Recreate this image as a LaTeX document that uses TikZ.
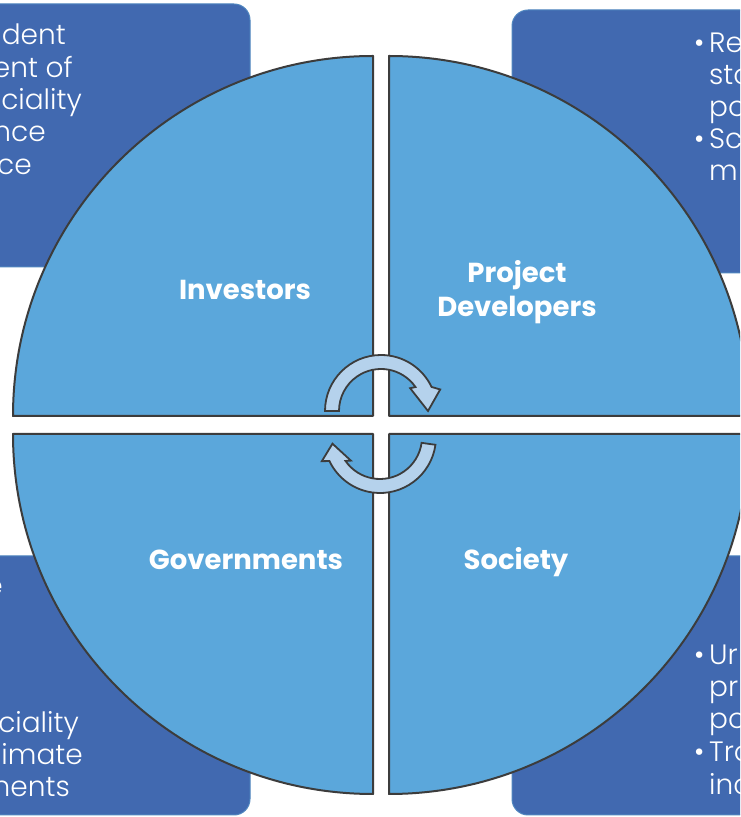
\documentclass[tikz,border=0pt]{standalone}
\usepackage{fontspec}
\setmainfont{Poppins}
\IfFontExistsTF{Poppins Light}{\newfontfamily\lightfont{Poppins Light}}{\newfontfamily\lightfont{Poppins}}

\definecolor{boxblue}{HTML}{4169B0}
\definecolor{boxedge}{HTML}{4F86BF}
\definecolor{quadblue}{HTML}{5BA7DB}
\definecolor{rimgray}{HTML}{3C3C3C}
\definecolor{arrowfill}{HTML}{B5D2EC}

\begin{document}
\begin{tikzpicture}[x=1pt, y=1pt,
    card/.style={fill=boxblue, draw=boxedge, line width=1pt, rounded corners=16pt},
    quad/.style={fill=quadblue, draw=rimgray, line width=2pt, line join=round},
    who/.style={text=white, font=\fontsize{27.5}{33}\selectfont\bfseries, inner sep=0pt},
    cardtext/.style={text=white, font=\lightfont\fontsize{28}{32}\selectfont, inner sep=0pt},
    turn/.style={fill=arrowfill, draw=rimgray, line width=1.8pt}]

  \clip (0,0) rectangle (740,817);
  \fill[white] (0,0) rectangle (740,817);

  %% cards behind the wheel
  \draw[card] (-30,550) rectangle (250,813);
  \draw[card] (512,544) rectangle (770,807);
  \draw[card] (-30,2) rectangle (250,261);
  \draw[card] (512,2) rectangle (770,261);

  %% card texts
  \foreach \t/\x/\y [count=\i] in {dent/66/772, ent of/73/739, ciality/82/707, nce/46/675, ce/32/642}
    \node[cardtext, anchor=base east] (tl\i) at (\x,\y) {\t};

  \foreach \t/\y [count=\i] in {Re/764, sto/732, po/700, Sc/668, m/636}
    \node[cardtext, anchor=base west] (tr\i) at (709,\y) {\t};
  \node[cardtext, anchor=base west] (trdot1) at (694,764) {\textbullet};
  \node[cardtext, anchor=base west] (trdot2) at (694,668) {\textbullet};

  \node[cardtext, anchor=base east] (bl0) at (3,221) {e};
  \foreach \t/\x/\y [count=\i] in {ciality/79/84, imate/83/52, nents/70/20}
    \node[cardtext, anchor=base east] (bl\i) at (\x,\y) {\t};

  \foreach \t/\y [count=\i] in {Ur/152, pr/120, po/88, Tro/55, inc/23}
    \node[cardtext, anchor=base west] (br\i) at (709,\y) {\t};
  \node[cardtext, anchor=base west] (brdot1) at (694,152) {\textbullet};
  \node[cardtext, anchor=base west] (brdot2) at (694,55) {\textbullet};

  %% the four quarters
  \draw[quad] (373,401) -- (13,401) arc[start angle=180, end angle=90, radius=360pt] -- cycle;
  \draw[quad] (389,401) -- (389,761) arc[start angle=90, end angle=0, radius=360pt] -- cycle;
  \draw[quad] (373,383) -- (373,23) arc[start angle=270, end angle=180, radius=360pt] -- cycle;
  \draw[quad] (389,383) -- (749,383) arc[start angle=0, end angle=-90, radius=360pt] -- cycle;

  %% turning arrows
  \draw[turn, shift={(381,406)}] (180:56pt) arc[start angle=180, end angle=25.4, radius=56pt]
    -- (20:63pt) -- (0:47pt) -- (38:37pt) -- (34.8:42pt)
    arc[start angle=34.8, end angle=180, radius=42pt] -- cycle;
  \draw[turn, shift={(380,380)}] (-8:56pt) arc[start angle=-8, end angle=-154.6, radius=56pt]
    -- (202.6:63pt) -- (188:48pt) -- (219:37.5pt) -- (-145.2:42pt)
    arc[start angle=-145.2, end angle=-8, radius=42pt] -- cycle;

  %% labels
  \node[who, anchor=base] (investors) at (245,517) {Investors};
  \node[who, anchor=base] (project) at (517,534) {Project};
  \node[who, anchor=base] (developers) at (517,500) {Developers};
  \node[who, anchor=base] (governments) at (246,247) {Governments};
  \node[who, anchor=base] (society) at (516,247) {Society};

\end{tikzpicture}
\end{document}
